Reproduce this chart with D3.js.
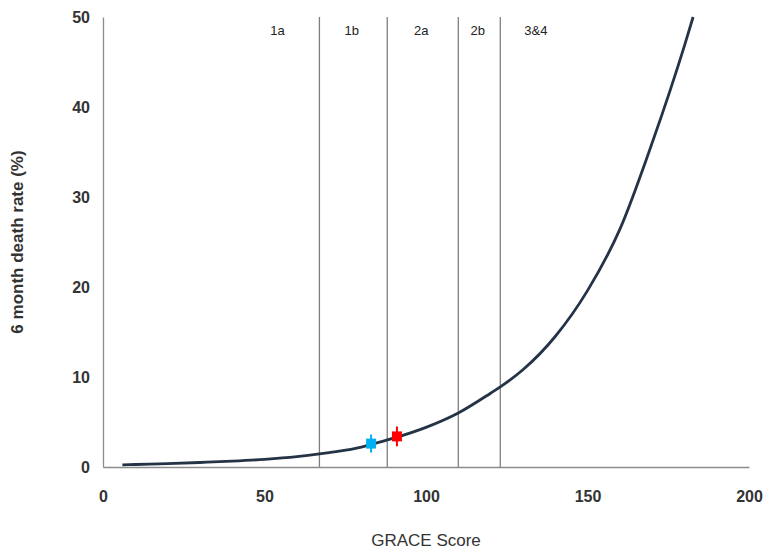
<!DOCTYPE html>
<html>
<head>
<meta charset="utf-8">
<script src="https://cdn.jsdelivr.net/npm/d3@7"></script>
<style>
  body { margin: 0; background: #fff; }
  svg text { font-family: "Liberation Sans", Arial, sans-serif; fill: #222; }
</style>
</head>
<body>
<div id="chart"></div>
<script>
// curve: GRACE score vs 6 month death rate (%)
var scores = [6, 10, 20, 30, 40, 50, 60, 67, 70, 80, 83, 90, 100, 110, 120, 123, 130, 140, 150, 160, 170, 180, 182.7];
var rates  = [0.24, 0.28, 0.37, 0.5, 0.65, 0.85, 1.15, 1.45, 1.6, 2.2, 2.5, 3.2, 4.4, 6.0, 8.2, 8.9, 10.8, 14.5, 19.6, 26.4, 36, 46.8, 50];

// risk band boundaries and labels
var bandCuts   = [67, 88, 110, 123];
var bandLabels = ["1a", "1b", "2a", "2b", "3&4"];
var bandLabelX = [54, 77, 98.5, 116, 134];

// the two marked patients
var markScore = [83, 91];
var markRate  = [2.6, 3.4];
var markErr   = [1.0, 1.1];
var markColor = ["#00b0f0", "#ff0000"];

var xTicks = [0, 50, 100, 150, 200];
var yTicks = [0, 10, 20, 30, 40, 50];

var W = 766, H = 551;
var margin = {top: 17, right: 17, bottom: 84, left: 103},
    width = W - margin.left - margin.right,
    height = H - margin.top - margin.bottom;

var svg = d3.select("#chart").append("svg")
    .attr("width", W)
    .attr("height", H);

var g = svg.append("g")
    .attr("transform", "translate(" + margin.left + "," + margin.top + ")");

var x = d3.scaleLinear().domain([0, 200]).range([0, width]);
var y = d3.scaleLinear().domain([0, 50]).range([height, 0]);

// band dividers
g.selectAll(".cut")
    .data(bandCuts)
  .enter().append("line")
    .attr("class", "cut")
    .attr("x1", function(d) { return x(d); })
    .attr("x2", function(d) { return x(d); })
    .attr("y1", 0)
    .attr("y2", height)
    .attr("stroke", "#7f7f7f")
    .attr("stroke-width", 1.3);

g.selectAll(".band")
    .data(bandLabels)
  .enter().append("text")
    .attr("class", "band")
    .attr("x", function(d, i) { return x(bandLabelX[i]); })
    .attr("y", 18)
    .attr("text-anchor", "middle")
    .style("font-size", "13px")
    .text(function(d) { return d; });

// axes
var xAxis = g.append("g")
    .attr("transform", "translate(0," + height + ")")
    .call(d3.axisBottom(x).tickValues(xTicks).tickSize(0).tickPadding(24));
var yAxis = g.append("g")
    .call(d3.axisLeft(y).tickValues(yTicks).tickSize(0).tickPadding(13));

[xAxis, yAxis].forEach(function(a) {
  a.select(".domain").attr("stroke", "#8c8c8c").attr("stroke-width", 1.3);
  a.selectAll("text").style("font-size", "16px").style("font-weight", "bold").style("fill", "#333");
});

// curve
var pts = scores.map(function(s, i) { return [s, rates[i]]; });
var line = d3.line()
    .x(function(d) { return x(d[0]); })
    .y(function(d) { return y(d[1]); })
    .curve(d3.curveMonotoneX);

g.append("path")
    .datum(pts)
    .attr("fill", "none")
    .attr("stroke", "#253347")
    .attr("stroke-width", 2.8)
    .attr("d", line);

// patient markers with error bars
var marks = g.selectAll(".mark")
    .data(markScore)
  .enter().append("g")
    .attr("class", "mark");

marks.append("line")
    .attr("x1", function(d) { return x(d); })
    .attr("x2", function(d, i) { return x(d); })
    .attr("y1", function(d, i) { return y(markRate[i] + markErr[i]); })
    .attr("y2", function(d, i) { return y(markRate[i] - markErr[i]); })
    .attr("stroke", function(d, i) { return markColor[i]; })
    .attr("stroke-width", 2);

marks.append("rect")
    .attr("x", function(d) { return x(d) - 5; })
    .attr("y", function(d, i) { return y(markRate[i]) - 5; })
    .attr("width", 10)
    .attr("height", 10)
    .attr("fill", function(d, i) { return markColor[i]; });

// titles
svg.append("text")
    .attr("x", margin.left + width / 2)
    .attr("y", 546)
    .attr("text-anchor", "middle")
    .style("font-size", "17px")
    .style("fill", "#333")
    .text("GRACE Score");

svg.append("text")
    .attr("transform", "translate(23," + (margin.top + height / 2) + ") rotate(-90)")
    .attr("text-anchor", "middle")
    .style("font-size", "17px")
    .style("font-weight", "bold")
    .style("fill", "#333")
    .text("6 month death rate (%)");
</script>
</body>
</html>
